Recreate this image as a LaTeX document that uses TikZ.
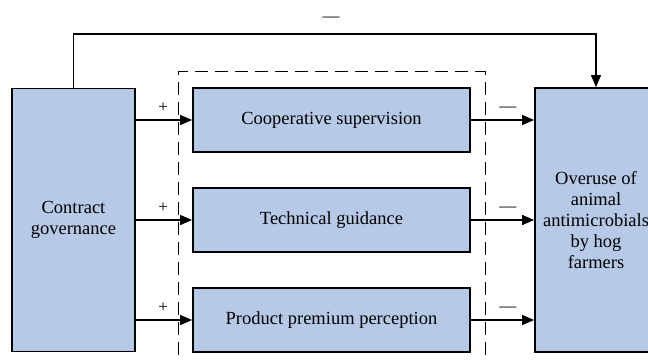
\documentclass[tikz,border=0pt]{standalone}
\usepackage{fontspec}
\setmainfont{Liberation Serif}
\usetikzlibrary{arrows.meta,calc}
\definecolor{boxblue}{RGB}{182,201,230}

\begin{document}
\begin{tikzpicture}[x=1pt,y=-1pt,
  factor/.style={draw=black,line width=1.8pt,fill=boxblue,align=center,inner sep=0pt,
    font=\fontsize{18.5}{21}\selectfont},
  link/.style={line width=1.1pt,-{Triangle[length=12pt,width=10pt]}},
  sign/.style={inner sep=0pt,font=\fontsize{17}{20}\selectfont}]
\useasboundingbox (0,0) rectangle (648,361);
\clip (0,0) rectangle (648,361);
% mediating box
\draw[line width=1pt,dash pattern=on 13pt off 7pt] (178,375) -- (178,72) -- (485,72) -- (485,375);
% factors
\node[factor,minimum width=123pt,minimum height=263pt] (gov) at (73.5,220) {Contract\\governance};
\node[factor,minimum width=277pt,minimum height=64pt] (sup) at (331.5,120) {Cooperative supervision};
\node[factor,minimum width=277pt,minimum height=64pt] (gui) at (331.5,220) {Technical guidance};
\node[factor,minimum width=277pt,minimum height=64pt] (pre) at (331.5,320) {Product premium perception};
\node[factor,minimum width=122pt,minimum height=264pt] (use) at (596,220) {Overuse of\\animal\\antimicrobials\\by hog\\farmers};
% direct path
\coordinate (top) at (0,34);
\draw[link] (gov.north) -- (gov.north |- top) -- (use.north |- top) -- (use.north);
\node[sign] (dir) at (331,19) {---};
% paths through mediators
\foreach \m in {sup,gui,pre} {
  \draw[link] (gov.east |- \m.west) -- (\m.west);
  \draw[link] (\m.east) -- (\m.east -| use.west);
  \node[sign] (p-\m) at ($(\m.west)+(-29,-12)$) {+};
  \node[sign] (n-\m) at ($(\m.east)+(37,-11)$) {---};
}
\end{tikzpicture}
\end{document}
